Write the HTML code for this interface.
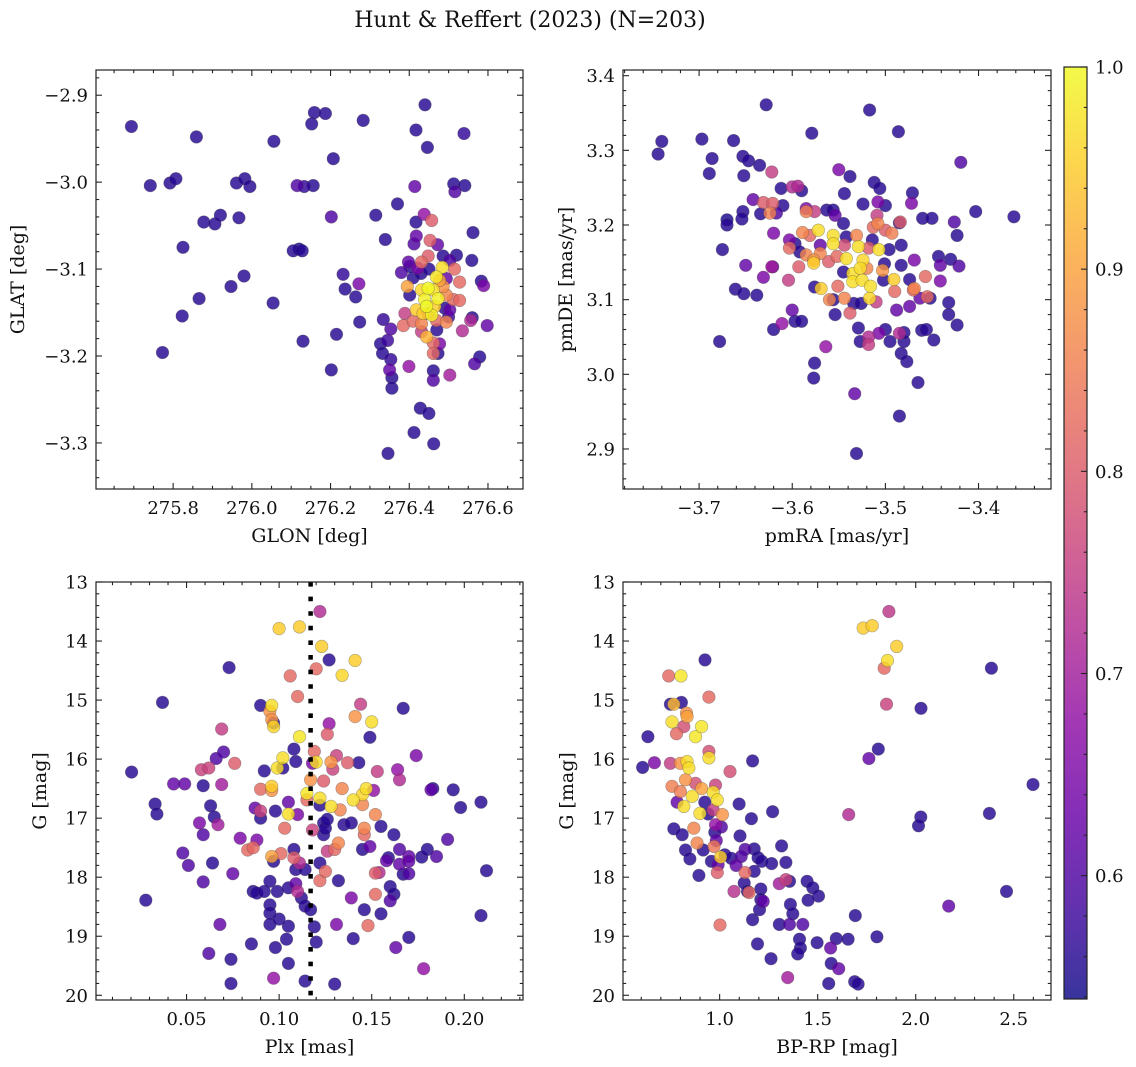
<!DOCTYPE html>
<html><head><meta charset="utf-8">
<style>
html,body{margin:0;padding:0;background:#fff;}
svg{display:block;font-family:"DejaVu Serif","Liberation Serif",serif;}
</style></head>
<body>
<svg id="fig" width="1136" height="1067" viewBox="0 0 1136 1067" xmlns="http://www.w3.org/2000/svg">
<defs>
<linearGradient id="plasmaGrad" x1="0" y1="1" x2="0" y2="0"></linearGradient>
</defs>
<text x="530" y="27" font-size="22" text-anchor="middle" fill="#111">Hunt &amp; Reffert (2023) (N=203)</text>
</svg>
<script>
// ---- Data: [x, y, membership probability] ----
const skyPoints = [
[275.694,-2.936,.56],[275.742,-3.004,.56],[275.792,-3.001,.56],[275.807,-2.996,.56],[275.859,-2.948,.56],[275.825,-3.075,.56],[275.878,-3.046,.56],[275.906,-3.048,.56],[275.92,-3.038,.56],[275.967,-3.041,.56],[275.866,-3.134,.56],[275.823,-3.154,.56],[275.773,-3.196,.56],[275.947,-3.12,.56],[275.98,-3.108,.56],[275.961,-3.001,.56],[275.982,-2.996,.56],[275.995,-3.005,.56],[276.056,-2.953,.56],[276.054,-3.139,.56],[276.105,-3.079,.56],[276.12,-3.077,.55],[276.128,-3.079,.56],[276.115,-3.004,.6],[276.133,-3.005,.57],[276.156,-3.004,.56],[276.13,-3.183,.56],[276.152,-2.933,.56],[276.159,-2.92,.56],[276.187,-2.921,.56],[276.207,-2.973,.56],[276.202,-3.04,.6],[276.202,-3.216,.56],[276.215,-3.175,.56],[276.232,-3.106,.57],[276.237,-3.123,.56],[276.264,-3.132,.56],[276.272,-3.117,.65],[276.274,-3.161,.56],[276.283,-2.929,.56],[276.315,-3.038,.56],[276.339,-3.066,.56],[276.334,-3.158,.57],[276.353,-3.169,.6],[276.327,-3.186,.56],[276.332,-3.197,.56],[276.345,-3.182,.58],[276.353,-3.204,.57],[276.35,-3.216,.62],[276.356,-3.225,.56],[276.356,-3.237,.56],[276.346,-3.312,.56],[276.37,-3.025,.56],[276.399,-3.212,.68],[276.412,-3.288,.56],[276.428,-3.26,.56],[276.45,-3.266,.56],[276.462,-3.301,.56],[276.461,-3.217,.56],[276.461,-3.228,.6],[276.503,-3.222,.7],[276.44,-2.911,.56],[276.417,-2.94,.56],[276.446,-2.96,.56],[276.539,-2.944,.57],[276.513,-3.002,.56],[276.516,-3.011,.6],[276.541,-3.004,.56],[276.414,-3.005,.62],[276.562,-3.058,.56],[276.559,-3.09,.56],[276.583,-3.114,.56],[276.589,-3.119,.65],[276.598,-3.165,.62],[276.56,-3.156,.56],[276.556,-3.159,.72],[276.535,-3.171,.72],[276.579,-3.201,.56],[276.566,-3.209,.6],
[276.438,-3.037,.68],[276.457,-3.044,.8],[276.417,-3.046,.56],[276.418,-3.062,.62],[276.412,-3.071,.6],[276.453,-3.067,.8],[276.472,-3.072,.62],[276.448,-3.085,.8],[276.431,-3.092,.82],[276.398,-3.092,.62],[276.401,-3.097,.56],[276.38,-3.104,.6],[276.422,-3.099,.65],[276.486,-3.085,.56],[276.52,-3.084,.56],[276.503,-3.09,.6],[276.515,-3.1,.82],[276.528,-3.115,.82],[276.494,-3.111,.62],[276.395,-3.12,.9],[276.401,-3.13,.56],[276.389,-3.151,.75],[276.385,-3.165,.82],[276.41,-3.16,.82],[276.431,-3.163,.86],[276.448,-3.151,.82],[276.469,-3.159,.82],[276.494,-3.161,.86],[276.503,-3.147,.62],[276.512,-3.135,.82],[276.528,-3.136,.82],[276.494,-3.13,.86],[276.444,-3.178,.92],[276.461,-3.185,.82],[276.461,-3.197,.82],[276.477,-3.186,.65],[276.473,-3.197,.56],[276.431,-3.172,.75],
[276.41,-3.11,.56],[276.43,-3.105,.56],[276.49,-3.145,.56],[276.5,-3.155,.58],[276.47,-3.17,.56],[276.45,-3.1,.56],
[276.484,-3.098,.97],[276.469,-3.109,.98],[276.448,-3.122,1.0],[276.431,-3.124,.96],[276.473,-3.134,.99],[276.461,-3.124,.97],[276.439,-3.135,.99],[276.444,-3.143,1.0],[276.457,-3.153,.99],[276.418,-3.147,.95],[276.465,-3.143,.95],[276.435,-3.151,.95],[276.486,-3.12,.88],[276.477,-3.113,.9]
];
const pmPoints = [
[-3.744,3.295,.56],[-3.740,3.312,.56],[-3.697,3.315,.56],[-3.686,3.289,.56],[-3.689,3.269,.56],[-3.663,3.313,.56],[-3.653,3.292,.56],[-3.647,3.286,.56],[-3.652,3.266,.56],[-3.635,3.28,.56],[-3.628,3.361,.56],[-3.622,3.271,.75],[-3.642,3.234,.62],[-3.631,3.23,.8],[-3.621,3.229,.8],[-3.61,3.226,.56],[-3.624,3.216,.85],[-3.617,3.216,.6],[-3.634,3.215,.56],[-3.653,3.218,.56],[-3.654,3.208,.56],[-3.67,3.207,.55],[-3.67,3.2,.56],[-3.675,3.167,.56],[-3.65,3.146,.62],[-3.661,3.114,.56],[-3.652,3.108,.56],[-3.638,3.106,.56],[-3.678,3.044,.56],[-3.62,3.189,.65],[-3.631,3.13,.65],[-3.622,3.144,.7],[-3.621,3.144,.62],[-3.612,3.249,.56],[-3.6,3.251,.72],[-3.594,3.252,.72],[-3.59,3.246,.56],[-3.579,3.323,.56],[-3.604,3.126,.75],[-3.6,3.086,.62],[-3.597,3.071,.56],[-3.59,3.071,.56],[-3.611,3.068,.68],[-3.62,3.06,.56],[-3.585,3.222,.65],[-3.585,3.218,.85],[-3.576,3.218,.75],[-3.603,3.18,.65],[-3.597,3.175,.56],[-3.592,3.164,.56],[-3.603,3.169,.82],[-3.589,3.19,.86],[-3.581,3.186,.82],[-3.593,3.144,.8],[-3.585,3.16,.86],[-3.577,3.153,.88],[-3.576,3.117,.56],[-3.577,3.149,.95],[-3.572,3.193,.97],[-3.57,3.173,.62],[-3.57,3.162,.86],[-3.569,3.115,.95],[-3.564,3.037,.68],[-3.576,3.015,.56],[-3.577,2.995,.56],[-3.563,3.22,.56],[-3.556,3.22,.56],[-3.554,3.213,.62],[-3.556,3.1,.56],[-3.56,3.1,.86],[-3.561,3.151,.8],[-3.556,3.186,.97],[-3.556,3.175,.97],[-3.552,3.158,.82],[-3.551,3.118,.82],[-3.554,3.08,.56],[-3.55,3.274,.65],[-3.544,3.242,.56],[-3.545,3.202,.56],[-3.542,3.184,.56],[-3.538,3.265,.56],[-3.544,3.173,.78],[-3.542,3.155,.97],[-3.545,3.137,.56],[-3.544,3.102,.86],[-3.538,3.082,.8],[-3.535,3.135,.97],[-3.534,3.095,.56],[-3.535,3.124,.97],[-3.531,3.186,.86],[-3.529,3.171,.97],[-3.529,3.062,.56],[-3.527,3.142,.97],[-3.527,3.044,.56],[-3.525,3.126,.97],[-3.526,3.095,.56],[-3.524,3.153,.96],[-3.524,3.228,.56],[-3.52,3.142,.86],[-3.518,3.169,.8],[-3.517,3.354,.56],[-3.516,3.118,.97],[-3.517,3.102,.96],[-3.518,3.05,.72],[-3.518,3.04,.75],[-3.514,3.18,.56],[-3.512,3.257,.56],[-3.51,3.097,.75],[-3.509,3.213,.75],[-3.508,3.231,.65],[-3.513,3.197,.82],[-3.508,3.202,.86],[-3.507,3.167,.97],[-3.506,3.249,.56],[-3.503,3.139,.88],[-3.501,3.148,.56],[-3.502,3.126,.56],[-3.507,3.055,.65],[-3.5,3.06,.56],[-3.5,3.226,.56],[-3.5,3.193,.8],[-3.496,3.167,.56],[-3.495,3.044,.56],[-3.493,3.189,.85],[-3.491,3.127,.95],[-3.49,3.111,.82],[-3.488,3.086,.62],[-3.486,3.325,.56],[-3.485,2.944,.56],[-3.485,3.203,.56],[-3.484,3.204,.8],[-3.483,3.173,.56],[-3.483,3.146,.56],[-3.485,3.055,.72],[-3.483,3.028,.56],[-3.48,3.044,.56],[-3.48,3.056,.56],[-3.477,3.017,.56],[-3.474,3.127,.56],[-3.474,3.091,.62],[-3.472,3.229,.65],[-3.471,3.243,.56],[-3.47,3.113,.82],[-3.469,3.115,.86],[-3.469,3.153,.65],[-3.465,2.989,.56],[-3.463,3.102,.62],[-3.461,3.059,.56],[-3.456,3.06,.56],[-3.46,3.209,.56],[-3.45,3.209,.56],[-3.457,3.131,.82],[-3.455,3.104,.82],[-3.452,3.102,.56],[-3.448,3.046,.56],[-3.443,3.158,.56],[-3.441,3.146,.62],[-3.441,3.125,.65],[-3.432,3.096,.56],[-3.432,3.08,.56],[-3.43,3.154,.56],[-3.426,3.204,.6],[-3.423,3.186,.56],[-3.421,3.145,.6],[-3.423,3.066,.56],[-3.419,3.284,.6],[-3.403,3.218,.56],[-3.362,3.211,.56],[-3.533,2.974,.62],[-3.531,2.894,.56]
];
const plxPoints = [
[0.0203,16.22,.56],[0.028,18.39,.56],[0.033,16.76,.56],[0.034,16.93,.56],[0.037,15.04,.56],[0.043,16.42,.62],[0.049,16.42,.62],[0.048,17.59,.6],[0.051,17.8,.6],[0.057,17.08,.65],[0.059,16.45,.56],[0.059,17.28,.6],[0.059,18.08,.6],[0.058,16.18,.76],[0.062,16.15,.76],[0.062,19.29,.6],[0.063,16.79,.56],[0.064,17.76,.56],[0.065,16.98,.56],[0.066,15.99,.6],[0.067,17.11,.7],[0.068,18.8,.62],[0.069,15.49,.75],[0.069,16.43,.7],[0.07,15.88,.6],[0.073,14.45,.56],[0.075,17.94,.62],[0.074,19.39,.56],[0.074,19.8,.56],[0.076,16.07,.8],[0.079,17.34,.65],[0.083,17.54,.82],[0.086,17.5,.82],[0.085,19.13,.56],[0.086,18.24,.56],[0.088,17.37,.65],[0.087,16.83,.62],[0.088,18.27,.56],[0.09,16.51,.82],[0.09,17.0,.56],[0.09,16.88,.76],[0.09,15.09,.56],[0.092,16.2,.56],[0.092,18.24,.56],[0.095,18.07,.56],[0.095,18.47,.56],[0.095,18.61,.56],[0.095,18.8,.56],[0.095,15.19,.88],[0.096,15.09,.97],[0.096,15.33,.88],[0.097,15.45,.96],[0.097,15.39,.56],[0.096,16.46,.95],[0.096,16.53,.88],[0.096,17.65,.9],[0.097,17.73,.56],[0.098,16.88,.56],[0.098,19.19,.56],[0.097,19.71,.68],[0.099,16.15,.97],[0.1,13.79,.95],[0.1,18.71,.56],[0.099,18.24,.56],[0.102,15.98,.97],[0.102,16.15,.56],[0.103,17.17,.82],[0.101,17.6,.82],[0.104,19.05,.56],[0.105,19.46,.56],[0.105,18.83,.56],[0.105,18.18,.56],[0.105,16.73,.62],[0.106,14.59,.82],[0.105,16.93,.97],[0.108,15.83,.56],[0.109,16.04,.56],[0.108,17.53,.56],[0.108,17.67,.8],[0.109,17.87,.56],[0.109,18.11,.62],[0.11,18.24,.72],[0.11,14.94,.82],[0.11,16.94,.65],[0.111,13.76,.95],[0.111,15.62,.98],[0.111,17.76,.72],[0.112,18.35,.56],[0.114,18.49,.56],[0.114,19.76,.56],[0.115,16.58,.98],[0.115,16.69,.82],[0.114,17.87,.56],[0.118,17.2,.76],[0.117,18.55,.56],[0.118,16.07,.65],[0.117,16.35,.88],[0.119,15.87,.82],[0.119,18.84,.56],[0.12,19.1,.56],[0.12,16.05,.97],[0.12,14.47,.82],[0.122,13.5,.72],[0.122,16.66,.97],[0.122,16.78,.56],[0.122,17.76,.56],[0.122,18.06,.82],[0.123,14.09,.95],[0.124,16.37,.8],[0.124,17.08,.56],[0.125,17.9,.82],[0.124,17.28,.56],[0.125,17.17,.56],[0.126,15.58,.8],[0.127,15.4,.68],[0.126,17.56,.75],[0.127,14.32,.56],[0.126,17.02,.56],[0.128,16.05,.88],[0.128,16.8,.97],[0.129,16.17,.76],[0.13,17.53,.82],[0.131,15.94,.76],[0.131,18.8,.65],[0.13,19.81,.56],[0.132,18.06,.56],[0.132,17.42,.86],[0.133,16.86,.86],[0.134,16.5,.86],[0.134,14.58,.96],[0.135,17.11,.56],[0.137,16.06,.8],[0.139,17.08,.56],[0.139,18.35,.65],[0.14,19.04,.56],[0.141,14.33,.95],[0.141,15.28,.88],[0.14,16.69,.97],[0.143,16.06,.56],[0.144,15.07,.75],[0.145,17.53,.56],[0.145,16.77,.86],[0.145,16.6,.96],[0.146,18.55,.56],[0.146,17.28,.82],[0.146,17.17,.86],[0.148,18.82,.82],[0.147,16.5,.97],[0.149,17.48,.62],[0.15,15.37,.97],[0.149,15.63,.56],[0.151,16.53,.68],[0.152,18.29,.82],[0.152,16.94,.86],[0.152,17.93,.8],[0.153,16.21,.75],[0.155,18.62,.56],[0.155,17.14,.56],[0.154,17.92,.72],[0.158,17.72,.62],[0.159,17.67,.56],[0.16,18.16,.56],[0.16,18.4,.6],[0.162,17.28,.56],[0.162,18.29,.56],[0.163,19.19,.62],[0.164,16.18,.68],[0.165,16.35,.72],[0.165,17.53,.6],[0.165,17.78,.62],[0.167,17.95,.56],[0.167,15.14,.56],[0.17,17.65,.62],[0.17,17.73,.62],[0.17,17.94,.6],[0.17,19.02,.56],[0.174,15.94,.65],[0.177,17.66,.56],[0.178,19.55,.68],[0.18,17.53,.56],[0.182,16.52,.62],[0.183,16.5,.56],[0.185,17.65,.6],[0.191,17.36,.6],[0.194,16.52,.56],[0.198,16.82,.56],[0.209,16.73,.56],[0.209,18.65,.56],[0.212,17.89,.56]
];
const cmdPoints = [
[0.607,16.14,.56],[0.634,15.62,.56],[0.667,16.06,.65],[0.749,15.07,.56],[0.805,15.04,.56],[0.925,14.32,.56],[1.168,16.03,.56],[0.766,17.18,.56],[0.809,17.28,.56],[0.826,17.54,.56],[0.848,17.69,.56],[0.894,17.97,.56],[0.783,16.73,.62],[1.099,16.76,.56],[1.162,17.01,.56],[1.27,16.89,.56],[1.104,17.3,.56],[1.13,17.53,.6],[1.176,17.52,.56],[1.196,17.67,.56],[1.215,17.73,.56],[1.265,17.77,.56],[1.176,17.9,.56],[1.316,17.47,.56],[1.338,17.75,.56],[1.125,18.1,.56],[1.142,18.24,.56],[1.21,18.2,.56],[1.21,18.38,.56],[1.203,18.55,.56],[1.222,18.41,.62],[1.168,18.72,.56],[1.304,18.8,.56],[1.361,18.46,.56],[1.373,18.62,.56],[1.356,18.8,.6],[1.424,18.8,.6],[1.446,18.07,.56],[1.475,18.18,.56],[1.504,18.32,.56],[1.451,18.39,.56],[1.304,18.11,.7],[1.356,18.07,.56],[1.193,19.13,.56],[1.262,19.38,.56],[1.407,19.05,.56],[1.412,19.2,.56],[1.398,19.3,.56],[1.497,19.11,.56],[1.566,19.2,.62],[1.595,19.04,.56],[1.655,19.05,.56],[1.569,19.46,.56],[1.607,19.55,.62],[1.556,19.8,.56],[1.689,19.77,.56],[1.706,19.81,.56],[1.692,18.65,.56],[1.802,19.01,.56],[1.761,15.99,.62],[1.809,15.83,.56],[2.027,15.14,.56],[2.026,16.98,.56],[2.014,17.13,.56],[2.168,18.49,.62],[2.386,14.46,.56],[2.376,16.92,.56],[2.598,16.43,.56],[2.463,18.24,.56],[1.658,16.94,.72],[1.347,19.7,.7],
[0.924,16.73,.56],[0.941,16.93,.56],[1.009,17.15,.6],[0.975,17.24,.56],[0.916,17.54,.56],[0.958,17.73,.56],[0.992,17.79,.62],[1.026,17.62,.56],[1.059,17.68,.56],[1.084,17.8,.62],[1.11,17.65,.6],[0.983,17.38,.62],
[0.74,14.59,.82],[0.803,14.59,.98],[0.945,14.95,.82],[0.766,15.07,.93],[0.757,15.37,.97],[0.831,15.22,.88],[0.834,15.28,.9],[0.78,15.57,.82],[0.817,15.45,.78],[0.877,15.62,.98],[0.908,15.45,.98],[0.945,15.87,.78],[0.945,15.98,.97],[0.834,16.04,.97],[0.843,16.15,.97],[0.8,16.07,.88],[0.749,16.07,.75],[1.053,16.21,.78],[0.826,16.35,.88],[0.877,16.41,.78],[0.979,16.44,.76],[0.757,16.46,.85],[0.8,16.55,.85],[0.86,16.63,.97],[0.908,16.5,.9],[0.967,16.56,.97],[0.988,16.69,.97],[0.817,16.8,.97],[0.899,16.92,.97],[1.014,16.94,.88],[0.967,16.86,.75],[0.868,17.17,.86],[0.885,17.42,.86],[0.979,17.11,.68],[0.971,17.48,.84],[1.005,17.66,.95],[0.988,17.92,.8],[1.073,18.24,.73],[1.13,17.92,.82],[1.15,18.26,.82],[1.338,18.04,.76],[1.002,18.81,.82],[1.863,13.5,.74],[1.732,13.78,.95],[1.778,13.74,.95],[1.903,14.09,.95],[1.856,14.33,.97],[1.839,14.46,.82],[1.851,15.07,.76]
];
// tick labels
const skyXTicks = [275.8, 276.0, 276.2, 276.4, 276.6];
const skyYTicks = [-2.9, -3.0, -3.1, -3.2, -3.3];
const pmXTicks = [-3.7, -3.6, -3.5, -3.4];
const pmYTicks = [2.9, 3.0, 3.1, 3.2, 3.3, 3.4];
const plxXTicks = [0.05, 0.10, 0.15, 0.20];
const magTicks = [13, 14, 15, 16, 17, 18, 19, 20];
const cmdXTicks = [1.0, 1.5, 2.0, 2.5];
const cbarTicks = [0.6, 0.7, 0.8, 0.9, 1.0];
const plxLine = 0.117;
const probMin = 0.539, probMax = 1.0;

const NS = "http://www.w3.org/2000/svg";
const svg = document.getElementById('fig');
const plasma = ["#0d0887","#41049d","#6a00a8","#8f0da4","#b12a90","#cc4778","#e16462","#f2844b","#fca636","#fcce25","#f0f921"];
function hex(h){return [parseInt(h.substr(1,2),16),parseInt(h.substr(3,2),16),parseInt(h.substr(5,2),16)];}
function cmap(t){
  t=Math.max(0,Math.min(1,t));
  const f=t*10, i=Math.min(9,Math.floor(f)), r=f-i;
  const a=hex(plasma[i]), b=hex(plasma[i+1]);
  return 'rgb('+a.map((v,k)=>Math.round(v+(b[k]-v)*r)).join(',')+')';
}
function mk(tag, attrs, parent){
  const e=document.createElementNS(NS,tag);
  for(const k in attrs) e.setAttribute(k, attrs[k]);
  (parent||svg).appendChild(e);
  return e;
}
function fmt(v,d){ const s=v.toFixed(d); return s.replace('-','\u2212'); }
function linScale(d0,d1,r0,r1){ return v=>r0+(v-d0)/(d1-d0)*(r1-r0); }

function panel(cfg){
  const g=mk('g',{});
  
  
  const sx=linScale(cfg.xd[0],cfg.xd[1],cfg.x0,cfg.x1);
  const sy=linScale(cfg.yd[0],cfg.yd[1],cfg.y0,cfg.y1);
  // points sorted by probability
  const pts=cfg.data.slice().sort((a,b)=>a[2]-b[2]);
  const pg=mk('g',{},g);
  
  
  pts.forEach(p=>{
    const c=mk('circle',{cx:sx(p[0]).toFixed(1),cy:sy(p[1]).toFixed(1),r:6.3,fill:cmap((p[2]-probMin)/(probMax-probMin)),'fill-opacity':0.82,stroke:'rgba(70,70,70,0.45)','stroke-width':0.6},pg);
    
    
  });
  if(cfg.vline!==undefined){
    const l=mk('line',{x1:sx(cfg.vline),x2:sx(cfg.vline),y1:cfg.y0,y2:cfg.y1,stroke:'#000','stroke-width':4.5,'stroke-dasharray':'4.6 10'},g);
    
    
  }
  // frame
  const fr=mk('rect',{x:cfg.x0,y:cfg.y0,width:cfg.x1-cfg.x0,height:cfg.y1-cfg.y0,fill:'none',stroke:'#222','stroke-width':1.2},g);
  
  
  const tg=mk('g',{stroke:'#222','stroke-width':1.1},g);
  
  
  // x ticks
  const xlo=Math.min(cfg.xd[0],cfg.xd[1]), xhi=Math.max(cfg.xd[0],cfg.xd[1]);
  for(let v=Math.ceil(xlo/cfg.xmin-1e-6)*cfg.xmin; v<=xhi+1e-9; v+=cfg.xmin){
    const X=sx(v); const major=cfg.xt.some(t=>Math.abs(t-v)<cfg.xmin*0.3);
    const L=major?6:3.2;
    mk('line',{x1:X,x2:X,y1:cfg.y1,y2:cfg.y1-L},tg); mk('line',{x1:X,x2:X,y1:cfg.y0,y2:cfg.y0+L},tg);
  }
  const ylo=Math.min(cfg.yd[0],cfg.yd[1]), yhi=Math.max(cfg.yd[0],cfg.yd[1]);
  for(let v=Math.ceil(ylo/cfg.ymin-1e-6)*cfg.ymin; v<=yhi+1e-9; v+=cfg.ymin){
    const Y=sy(v); const major=cfg.yt.some(t=>Math.abs(t-v)<cfg.ymin*0.3);
    const L=major?6:3.2;
    mk('line',{x1:cfg.x0,x2:cfg.x0+L,y1:Y,y2:Y},tg); mk('line',{x1:cfg.x1,x2:cfg.x1-L,y1:Y,y2:Y},tg);
  }
  cfg.xt.forEach(v=>{
    const t=mk('text',{x:sx(v),y:cfg.y1+25,'font-size':18,'text-anchor':'middle',fill:'#111'},g);
    t.textContent=fmt(v,cfg.xdec);
    
    
  });
  cfg.yt.forEach(v=>{
    const t=mk('text',{x:cfg.x0-8,y:sy(v)+6.5,'font-size':18,'text-anchor':'end',fill:'#111'},g);
    t.textContent=fmt(v,cfg.ydec);
    
    
  });
  const xl=mk('text',{x:(cfg.x0+cfg.x1)/2,y:cfg.y1+53,'font-size':19,'text-anchor':'middle',fill:'#111'},g);
  xl.textContent=cfg.xlabel;
  
  
  const yc=(cfg.y0+cfg.y1)/2;
  const yl=mk('text',{x:cfg.ylx,y:yc,'font-size':19,'text-anchor':'middle',fill:'#111',transform:'rotate(-90 '+cfg.ylx+' '+yc+')'},g);
  yl.textContent=cfg.ylabel;
  
  
}

panel({name:'sky-panel',data:skyPoints,x0:96,x1:523,y0:70,y1:489,xd:[275.604,276.689],yd:[-2.871,-3.353],xt:skyXTicks,yt:skyYTicks,xmin:0.05,ymin:0.02,xdec:1,ydec:1,xlabel:'GLON [deg]',ylabel:'GLAT [deg]',ylx:24});
panel({name:'proper-motion-panel',data:pmPoints,x0:623,x1:1051,y0:70,y1:489,xd:[-3.7817,-3.3222],yd:[3.4076,2.8464],xt:pmXTicks,yt:pmYTicks,xmin:0.02,ymin:0.02,xdec:1,ydec:1,xlabel:'pmRA [mas/yr]',ylabel:'pmDE [mas/yr]',ylx:572});
panel({name:'parallax-panel',data:plxPoints,x0:96,x1:523,y0:582,y1:1000,xd:[0.0011,0.2317],yd:[13.0,20.08],xt:plxXTicks,yt:magTicks,xmin:0.01,ymin:0.2,xdec:2,ydec:0,xlabel:'Plx [mas]',ylabel:'G [mag]',ylx:46,vline:plxLine});
panel({name:'cmd-panel',data:cmdPoints,x0:623,x1:1051,y0:582,y1:1000,xd:[0.507,2.69],yd:[13.0,20.08],xt:cmdXTicks,yt:magTicks,xmin:0.1,ymin:0.2,xdec:1,ydec:0,xlabel:'BP-RP [mag]',ylabel:'G [mag]',ylx:573});

// colorbar
(function(){
  const grad=document.getElementById('plasmaGrad');
  for(let i=0;i<=20;i++){
    const s=mk('stop',{offset:(i/20),'stop-color':cmap(i/20)},grad);
  }
  const cx0=1064,cx1=1087,cy0=67,cy1=999;
  const g=mk('g',{});
  
  
  mk('rect',{x:cx0,y:cy0,width:cx1-cx0,height:cy1-cy0,fill:'url(#plasmaGrad)','fill-opacity':0.82},g);
  mk('rect',{x:cx0,y:cy0,width:cx1-cx0,height:cy1-cy0,fill:'none',stroke:'#222','stroke-width':1.2},g);
  const sy=linScale(probMin,probMax,cy1,cy0);
  for(let v=0.54; v<=1.0001; v+=0.02){
    const Y=sy(v); const major=cbarTicks.some(t=>Math.abs(t-v)<0.005);
    mk('line',{x1:cx1,x2:cx1-(major?6:3.2),y1:Y,y2:Y,stroke:'#222','stroke-width':1.1},g);
  }
  cbarTicks.forEach(v=>{
    const t=mk('text',{x:cx1+8,y:sy(v)+6.5,'font-size':18,fill:'#111'},g);
    t.textContent=v.toFixed(1);
    
    
  });
})();
</script>
</body></html>
